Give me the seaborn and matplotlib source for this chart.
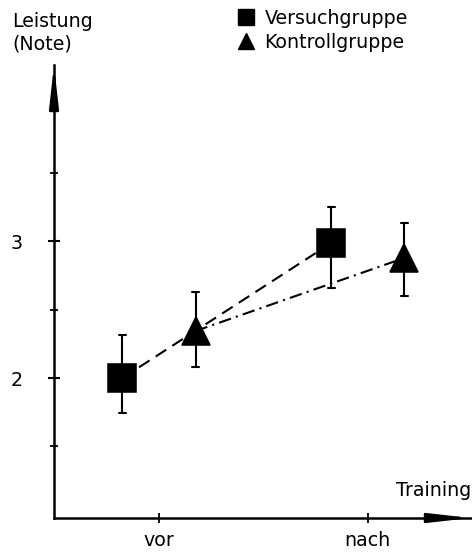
import numpy as np
import pandas as pd
import matplotlib.pyplot as plt
import seaborn as sns
from matplotlib.lines import Line2D

# values (Note scale)
groups = ["Versuchgruppe", "Kontrollgruppe"]
times = ["vor", "nach"]
versuch_mean = [2.00, 2.985]
versuch_low = [1.745, 2.66]
versuch_high = [2.314, 3.25]
kontroll_mean = [2.343, 2.876]
kontroll_low = [2.08, 2.60]
kontroll_high = [2.628, 3.13]
y_major = [2, 3]
y_minor = [1.5, 2.5, 3.5]

# three values per point: low / mean / high -> median + min/max interval
rows = []
for grp, mean, low, high in [(groups[0], versuch_mean, versuch_low, versuch_high),
                             (groups[1], kontroll_mean, kontroll_low, kontroll_high)]:
    for t, m, lo, hi in zip(times, mean, low, high):
        for v in (lo, m, hi):
            rows.append({"Gruppe": grp, "Training": t, "Note": v})
df = pd.DataFrame(rows)

sns.set_style("ticks")
plt.rcParams["font.family"] = ["DejaVu Sans"]
plt.rcParams["text.color"] = "black"
plt.rcParams["xtick.labelcolor"] = "black"
plt.rcParams["ytick.labelcolor"] = "black"
FS = 13.7

fig = plt.figure(figsize=(4.72, 5.52), dpi=100)
ax = fig.add_axes([54 / 472, 34 / 552, 417 / 472, 453 / 552])

sns.pointplot(data=df, x="Training", y="Note", hue="Gruppe", order=times, hue_order=groups,
              estimator="median", errorbar=lambda v: (v.min(), v.max()),
              palette=["black", "black"], markers=["s", "^"],
              linestyles=[(0, (6, 3.5)), (0, (6, 2.5, 1, 2.5))],
              dodge=0.35, capsize=0.035, linewidth=1.5, markersize=20,
              err_kws={"linewidth": 1.5}, legend=False, ax=ax)

ax.set_xlim(-0.503, 1.495)
ax.set_ylim(0.978, 4.285)
ax.set_xlabel("")
ax.set_ylabel("")
ax.set_yticks(y_major)
ax.set_yticklabels([str(v) for v in y_major])
ax.set_yticks(y_minor, minor=True)

for side in ["top", "right"]:
    ax.spines[side].set_visible(False)
for side in ["left", "bottom"]:
    ax.spines[side].set_color("black")
    ax.spines[side].set_linewidth(1.8)

ax.tick_params(axis="y", which="major", direction="inout", length=9, width=1.5,
               pad=18, labelsize=FS, color="black", labelcolor="black")
ax.tick_params(axis="y", which="minor", direction="inout", length=6, width=1.3, color="black")
ax.tick_params(axis="x", direction="inout", length=7, width=1.3, pad=6,
               labelsize=FS, color="black", labelcolor="black")

# arrow heads on the axes
arrow = dict(arrowstyle="-|>,head_length=1.25,head_width=0.14", color="black",
             lw=1.8, mutation_scale=20, shrinkA=0, shrinkB=0)
ax.annotate("", xy=(0, 1), xytext=(0, 0.9), xycoords="axes fraction",
            arrowprops=arrow, annotation_clip=False)
ax.annotate("", xy=(1, 0), xytext=(0.9, 0), xycoords="axes fraction",
            arrowprops=arrow, annotation_clip=False)

fig.text(12 / 472, 1 - 27 / 552, "Leistung", fontsize=FS, va="baseline", color="black")
fig.text(12 / 472, 1 - 50 / 552, "(Note)", fontsize=FS, va="baseline", color="black")
fig.text(471 / 472, 1 - 496 / 552, "Training", fontsize=FS, ha="right", va="baseline",
         color="black")

handles = [Line2D([], [], ls="none", marker="s", color="black", ms=11),
           Line2D([], [], ls="none", marker="^", color="black", ms=12)]
fig.legend(handles, groups, loc="upper left", bbox_to_anchor=(0.5, 0.984),
           frameon=False, fontsize=FS, handlelength=1.0, handletextpad=0.5,
           labelspacing=0.25, borderpad=0, borderaxespad=0, labelcolor="black")

fig.savefig("out.png", dpi=100)
